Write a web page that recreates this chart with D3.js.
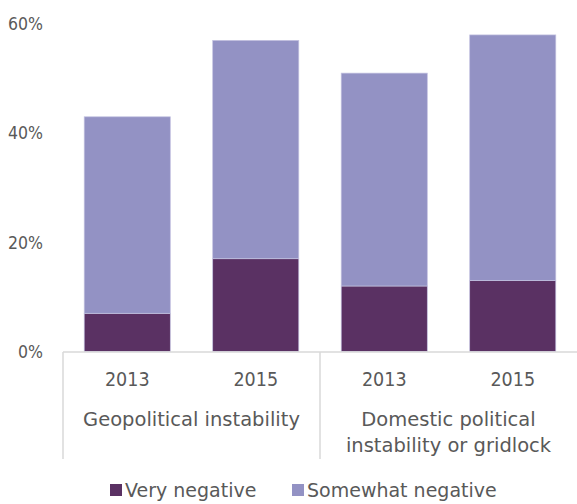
<!DOCTYPE html>
<html>
<head>
<meta charset="utf-8">
<script src="https://cdn.jsdelivr.net/npm/d3@7"></script>
<style>
  body { margin: 0; background: #fff; }
  text { font-family: "DejaVu Sans", sans-serif; fill: #595959; }
  text.num { font-family: "DejaVu Sans Condensed", "DejaVu Sans", sans-serif; }
</style>
</head>
<body>
<script>
// data
var groups = ["Geopolitical instability", "Domestic political|instability or gridlock"];
var years = ["2013", "2015", "2013", "2015"];
var groupOf = [0, 0, 1, 1];
var veryNegative = [7, 17, 12, 13];
var somewhatNegative = [36, 40, 39, 45];
var seriesNames = ["Very negative", "Somewhat negative"];
var colors = ["#5a3163", "#9392c4"];
var yTicks = [0, 20, 40, 60];

var W = 577, H = 504;
var margin = {top: 24, right: 0, bottom: 152.5, left: 63};
var width = W - margin.left - margin.right,
    height = H - margin.top - margin.bottom;

var svg = d3.select("body").append("svg")
    .attr("width", W)
    .attr("height", H);
var g = svg.append("g")
    .attr("transform", "translate(" + margin.left + "," + margin.top + ")");

var x = d3.scaleBand()
    .domain(d3.range(years.length))
    .range([0, width])
    .paddingInner(0.33)
    .paddingOuter(0.165);
var y = d3.scaleLinear()
    .domain([0, 60])
    .range([height, 0]);

var rows = years.map(function(d, i) {
    return {i: i, v1: veryNegative[i], v2: somewhatNegative[i]};
});
var stack = d3.stack().keys(["v1", "v2"])(rows);

g.selectAll("g.layer").data(stack).enter()
    .append("g").attr("class", "layer")
    .attr("fill", function(d, k) { return colors[k]; })
    .selectAll("rect").data(function(d) { return d; }).enter()
    .append("rect")
    .attr("x", function(d) { return x(d.data.i); })
    .attr("width", x.bandwidth())
    .attr("y", function(d) { return y(d[1]); })
    .attr("height", function(d) { return y(d[0]) - y(d[1]); })
    .attr("stroke", "#c3c2e0")
    .attr("stroke-width", 0.7);

// y axis labels (no line)
g.selectAll("text.ytick").data(yTicks).enter()
    .append("text").attr("class", "ytick num")
    .attr("x", -20)
    .attr("y", function(d) { return y(d); })
    .attr("dy", "0.36em")
    .attr("text-anchor", "end")
    .style("font-size", "17.5px")
    .text(function(d) { return d + "%"; });

// x axis line + group dividers
var axisY = height + 0.5;
g.append("line")
    .attr("x1", 0).attr("x2", width)
    .attr("y1", axisY).attr("y2", axisY)
    .attr("stroke", "#d9d9d9").attr("stroke-width", 1.5);
var dividers = [0, (x(1) + x.bandwidth() + x(2)) / 2];
g.selectAll("line.div").data(dividers).enter()
    .append("line").attr("class", "div")
    .attr("x1", function(d) { return d; }).attr("x2", function(d) { return d; })
    .attr("y1", axisY).attr("y2", axisY + 107)
    .attr("stroke", "#d9d9d9").attr("stroke-width", 1.5);

// year labels
g.selectAll("text.year").data(years).enter()
    .append("text").attr("class", "year num")
    .attr("x", function(d, i) { return x(i) + x.bandwidth() / 2; })
    .attr("y", axisY + 27)
    .attr("dy", "0.36em")
    .attr("text-anchor", "middle")
    .style("font-size", "19.5px")
    .text(function(d) { return d; });

// group labels
groups.forEach(function(name, gi) {
    var idx = groupOf.map(function(v, i) { return v === gi ? i : -1; }).filter(function(i) { return i >= 0; });
    var cx = (x(idx[0]) + x(idx[idx.length - 1]) + x.bandwidth()) / 2;
    var t = g.append("text")
        .attr("x", cx)
        .attr("y", axisY + 67)
        .attr("text-anchor", "middle")
        .style("font-size", "19.5px");
    name.split("|").forEach(function(line, li) {
        t.append("tspan").attr("x", cx).attr("dy", li === 0 ? "0.36em" : "1.33em").text(line);
    });
});

// legend
var legendX = [110, 292];
var leg = svg.selectAll("g.legend").data(seriesNames).enter()
    .append("g").attr("class", "legend")
    .attr("transform", function(d, i) { return "translate(" + legendX[i] + ",490)"; });
leg.append("rect")
    .attr("x", 0).attr("y", -6)
    .attr("width", 12).attr("height", 12)
    .attr("fill", function(d, i) { return colors[i]; });
leg.append("text")
    .attr("x", 15).attr("y", 0)
    .attr("dy", "0.36em")
    .style("font-size", "19px")
    .text(function(d) { return d; });
</script>
</body>
</html>
